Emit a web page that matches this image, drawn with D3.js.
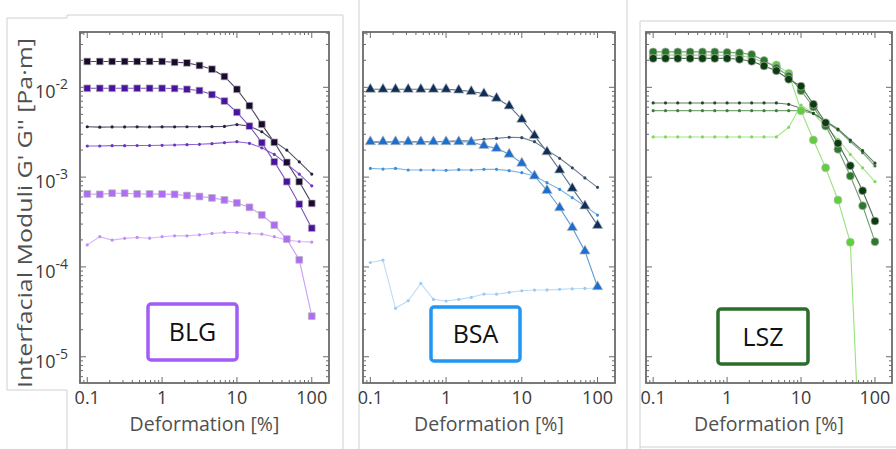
<!DOCTYPE html>
<html>
<head>
<meta charset="utf-8">
<title>Interfacial moduli vs deformation</title>
<style>
  body { margin: 0; background: #ffffff; }
  svg { display: block; font-family: 'Open Sans', sans-serif; }
  .frame { fill: none; stroke: #6b6b6b; stroke-width: 1.8; }
  .tick { stroke: #6b6b6b; stroke-width: 1; }
  .ticklabel { fill: #3a3a3a; font-size: 18px; }
  .axislabel { fill: #505050; font-size: 19.5px; }
  .crop { stroke: #d0d0d0; stroke-width: 1; fill: none; }
</style>
</head>
<body>
<svg id="chart" width="896" height="449"></svg>
<script src="https://cdnjs.cloudflare.com/ajax/libs/d3/7.8.5/d3.min.js"></script>
<script>

// deformation steps [%], shared by every curve
var strain = [0.1, 0.147, 0.215, 0.316, 0.464, 0.681, 1, 1.47, 2.15, 3.16, 4.64, 6.81, 10, 14.7, 21.5, 31.6, 46.4, 68.1, 100]

var xTickLabels = ["0.1", "1", "10", "100"]
var xTickValues = [0.1, 1, 10, 100]
var yTickValues = [1e-2, 1e-3, 1e-4, 1e-5]
var yTickExponents = ["-2", "-3", "-4", "-5"]
var panelNames = ["BLG", "BSA", "LSZ"]

// BLG  (squares = G', small dots = G'')
var blgDarkG1  = [0.0194, 0.0194, 0.0194, 0.0194, 0.0194, 0.0194, 0.0194, 0.019, 0.0187, 0.0175, 0.0159, 0.0132, 0.0095, 0.00624, 0.00387, 0.00244, 0.00146, 0.00089, 0.00051]
var blgDarkG2  = [0.00364, 0.0036, 0.00362, 0.00362, 0.00363, 0.00362, 0.00363, 0.00363, 0.00364, 0.00364, 0.00365, 0.00367, 0.00385, 0.0037, 0.0032, 0.0025, 0.002, 0.00148, 0.00108]
var blgMidG1   = [0.00975, 0.00975, 0.00975, 0.00975, 0.00975, 0.00975, 0.00975, 0.0097, 0.0095, 0.0092, 0.0083, 0.00703, 0.00527, 0.0037, 0.00242, 0.00148, 0.00089, 0.0005, 0.00027]
var blgMidG2   = [0.00222, 0.00222, 0.00224, 0.00224, 0.00225, 0.00225, 0.00226, 0.00228, 0.0023, 0.00232, 0.00236, 0.00242, 0.00248, 0.00238, 0.00212, 0.00179, 0.0014, 0.00108, 0.0008]
var blgLightG1 = [0.00065, 0.000643, 0.000662, 0.000662, 0.00065, 0.00065, 0.000647, 0.000643, 0.000624, 0.000608, 0.000587, 0.000557, 0.000516, 0.000461, 0.000379, 0.000292, 0.000204, 0.00012, 0.0000283]
var blgLightG2 = [0.000176, 0.000217, 0.000199, 0.000208, 0.000213, 0.000209, 0.000217, 0.000222, 0.000222, 0.000228, 0.000236, 0.000242, 0.000242, 0.000236, 0.000232, 0.000217, 0.000199, 0.000192, 0.000189]

// BSA  (triangles = G', small dots = G'')
var bsaDarkG1  = [0.0095, 0.0095, 0.0095, 0.0095, 0.0095, 0.0095, 0.0095, 0.0093, 0.009, 0.0085, 0.00755, 0.0062, 0.0044, 0.0029, 0.00191, 0.0012, 0.00075, 0.000477, 0.00029]
var bsaDarkG2  = [0.00245, 0.00245, 0.00246, 0.00246, 0.00247, 0.00248, 0.0025, 0.00253, 0.00256, 0.00264, 0.0027, 0.00278, 0.00275, 0.00248, 0.002, 0.00162, 0.00127, 0.00098, 0.00077]
var bsaMidG1   = [0.00248, 0.00248, 0.00248, 0.00248, 0.00248, 0.00248, 0.00248, 0.00248, 0.00246, 0.00225, 0.00209, 0.0018, 0.00143, 0.00103, 0.00071, 0.000456, 0.000274, 0.00015, 0.0000602]
var bsaMidG2   = [0.00125, 0.00123, 0.00125, 0.0012, 0.0012, 0.0012, 0.00119, 0.00121, 0.0012, 0.00122, 0.00122, 0.00118, 0.00112, 0.00103, 0.000867, 0.000731, 0.00059, 0.000477, 0.000378]
var bsaLightG2 = [0.000112, 0.000119, 0.0000346, 0.000042, 0.0000656, 0.0000435, 0.0000417, 0.0000435, 0.0000458, 0.0000499, 0.0000497, 0.0000521, 0.0000543, 0.0000553, 0.0000555, 0.0000563, 0.0000571, 0.0000576, 0.0000582]

// LSZ  (circles = G', small dots = G'')
var lszDarkG1  = [0.021, 0.021, 0.021, 0.021, 0.021, 0.021, 0.021, 0.0205, 0.0195, 0.0173, 0.0153, 0.0123, 0.0103, 0.00647, 0.00403, 0.00238, 0.00134, 0.000706, 0.000324]
var lszMidG1   = [0.0248, 0.0248, 0.0248, 0.0248, 0.0248, 0.0248, 0.0245, 0.0242, 0.0232, 0.0199, 0.0165, 0.0134, 0.00917, 0.00604, 0.0037, 0.00204, 0.00103, 0.00048, 0.000191]
var lszLightG1 = [0.0228, 0.0228, 0.0228, 0.0228, 0.0228, 0.0228, 0.0226, 0.0224, 0.0215, 0.0188, 0.0177, 0.0143, 0.00549, 0.00259, 0.00127, 0.000556, 0.000188, 1.5e-7, null]
var lszDarkG2  = [0.0067, 0.0067, 0.0067, 0.0067, 0.0067, 0.0067, 0.0067, 0.0067, 0.0067, 0.0067, 0.0067, 0.00647, 0.00584, 0.00513, 0.00421, 0.00343, 0.00259, 0.00197, 0.00143]
var lszMidG2   = [0.0055, 0.0055, 0.0055, 0.0055, 0.0055, 0.0055, 0.0055, 0.0055, 0.0055, 0.0055, 0.0055, 0.0055, 0.00548, 0.0051, 0.00414, 0.00335, 0.00248, 0.00187, 0.00133]
var lszLightG2 = [0.0028, 0.0028, 0.0028, 0.0028, 0.0028, 0.0028, 0.0028, 0.0028, 0.0028, 0.0028, 0.0028, 0.00359, 0.00635, 0.00513, 0.00364, 0.00264, 0.00179, 0.00127, 0.00089]

// layout of the three panels
var panels = [
  { left: 80, right: 329, boxColor: "#a35cf5", box: [148, 304, 89, 56], marker: d3.symbolSquare, size: 46,
    series: [
      { values: blgLightG2, color: "#c08cf5", line: "#d7b6fa", dot: true },
      { values: blgMidG2, color: "#6a35c0", line: "#8d63d2", dot: true },
      { values: blgDarkG2, color: "#2a1f3d", line: "#55506a", dot: true },
      { values: blgLightG1, color: "#b06cf5", line: "#c9a0f7" },
      { values: blgMidG1, color: "#4a12a0", line: "#7a52bd" },
      { values: blgDarkG1, color: "#1a0a30", line: "#4d4560" }
    ] },
  { left: 363, right: 615, boxColor: "#2196f3", box: [431, 307, 89, 54], marker: d3.symbolTriangle, size: 46,
    series: [
      { values: bsaLightG2, color: "#9ccaf5", line: "#bcdcf8", dot: true },
      { values: bsaMidG2, color: "#3d8fdb", line: "#7fb3e6", dot: true },
      { values: bsaDarkG2, color: "#334a66", line: "#6d7f94", dot: true },
      { values: bsaMidG1, color: "#1a6fd0", line: "#5f9ad9" },
      { values: bsaDarkG1, color: "#0e2f5a", line: "#5a6e86" }
    ] },
  { left: 646, right: 892, boxColor: "#2a6e2a", box: [718, 309, 90, 55], marker: d3.symbolCircle, size: 50,
    series: [
      { values: lszLightG2, color: "#7fd85c", line: "#a6e68c", dot: true },
      { values: lszMidG2, color: "#3f803f", line: "#7aa67a", dot: true },
      { values: lszDarkG2, color: "#244d24", line: "#5f7f5f", dot: true },
      { values: lszLightG1, color: "#5fd03a", line: "#9ae27f" },
      { values: lszMidG1, color: "#2b7a2b", line: "#6f9f6f" },
      { values: lszDarkG1, color: "#0c3d10", line: "#4f6f52" }
    ] }
]

var plotTop = 32, plotBottom = 383

var svg = d3.select("#chart")

// faint crop outlines from the source figure
var crops = [
  [7, 18, 67, 18], [67, 18, 67, 15], [67, 15, 343, 15], [343, 15, 343, 449],
  [7, 18, 7, 390], [7, 390, 67, 390], [67, 390, 67, 449],
  [359, 0, 359, 449], [627, 0, 627, 449],
  [640, 21, 640, 449], [640, 21, 896, 21], [640, 447, 896, 447]
]
svg.append("g").selectAll("line")
  .data(crops).enter().append("line")
  .attr("class", "crop")
  .attr("x1", function (d) { return d[0] }).attr("y1", function (d) { return d[1] })
  .attr("x2", function (d) { return d[2] }).attr("y2", function (d) { return d[3] })

var y = d3.scaleLog().domain([5.1e-6, 0.0413]).range([plotBottom, plotTop])

function isMajor(v) {
  var l = Math.log10(v)
  return Math.abs(l - Math.round(l)) < 1e-6
}

panels.forEach(function (p, i) {
  var x = d3.scaleLog().domain([0.08, 170]).range([p.left, p.right])
  var g = svg.append("g")

  // clip to the plotting box
  var clipId = "clip" + i
  g.append("clipPath").attr("id", clipId)
    .append("rect")
    .attr("x", p.left).attr("y", plotTop)
    .attr("width", p.right - p.left).attr("height", plotBottom - plotTop)

  // ticks on all four sides, pointing inward
  var ticks = g.append("g")
  x.ticks().forEach(function (t) {
    var len = isMajor(t) ? 6 : 3
    ticks.append("line").attr("class", "tick")
      .attr("x1", x(t)).attr("x2", x(t)).attr("y1", plotBottom).attr("y2", plotBottom - len)
    ticks.append("line").attr("class", "tick")
      .attr("x1", x(t)).attr("x2", x(t)).attr("y1", plotTop).attr("y2", plotTop + len)
  })
  y.ticks().forEach(function (t) {
    var len = isMajor(t) ? 6 : 3
    ticks.append("line").attr("class", "tick")
      .attr("y1", y(t)).attr("y2", y(t)).attr("x1", p.left).attr("x2", p.left + len)
    ticks.append("line").attr("class", "tick")
      .attr("y1", y(t)).attr("y2", y(t)).attr("x1", p.right).attr("x2", p.right - len)
  })

  // curves
  var plot = g.append("g").attr("clip-path", "url(#" + clipId + ")")
  var line = d3.line()
    .defined(function (d) { return d[1] != null })
    .x(function (d) { return x(d[0]) })
    .y(function (d) { return y(d[1]) })

  p.series.forEach(function (s) {
    var pts = strain.map(function (v, k) { return [v, s.values[k]] })
    plot.append("path")
      .attr("d", line(pts))
      .attr("fill", "none")
      .attr("stroke", s.line)
      .attr("stroke-width", 1.1)

    var sym = s.dot ? d3.symbol().type(d3.symbolCircle).size(8)
                    : d3.symbol().type(p.marker).size(p.size)
    plot.append("g").selectAll("path")
      .data(pts.filter(function (d) { return d[1] != null }))
      .enter().append("path")
      .attr("d", sym)
      .attr("transform", function (d) { return "translate(" + x(d[0]) + "," + y(d[1]) + ")" })
      .attr("fill", s.color)
      .attr("stroke", s.dot ? "none" : "#b8b8b8")
      .attr("stroke-width", 0.7)
  })

  // frame
  g.append("rect").attr("class", "frame")
    .attr("x", p.left).attr("y", plotTop)
    .attr("width", p.right - p.left).attr("height", plotBottom - plotTop)

  // x tick labels
  g.selectAll(".ticklabel")
    .data(xTickValues).enter().append("text")
    .attr("class", "ticklabel")
    .attr("x", function (d) { return x(d) })
    .attr("y", 404)
    .attr("text-anchor", "middle")
    .text(function (d, k) { return xTickLabels[k] })

  g.append("text").attr("class", "axislabel")
    .attr("x", (p.left + p.right) / 2)
    .attr("y", 431)
    .attr("text-anchor", "middle")
    .text("Deformation [%]")

  // sample label box
  g.append("rect")
    .attr("x", p.box[0]).attr("y", p.box[1])
    .attr("width", p.box[2]).attr("height", p.box[3])
    .attr("rx", 3)
    .attr("fill", "#ffffff")
    .attr("stroke", p.boxColor)
    .attr("stroke-width", 3.5)
  g.append("text")
    .attr("x", p.box[0] + p.box[2] / 2)
    .attr("y", p.box[1] + p.box[3] / 2 + 9)
    .attr("text-anchor", "middle")
    .attr("font-size", 25)
    .attr("fill", "#111111")
    .text(panelNames[i])
})

// y tick labels, first panel only
var ylab = svg.append("g")
yTickValues.forEach(function (t, k) {
  var txt = ylab.append("text").attr("class", "ticklabel")
    .attr("x", 35).attr("y", y(t) + 11)
    .attr("font-size", 21)
  txt.append("tspan").text("10")
  txt.append("tspan").attr("dy", -9).attr("font-size", 14).text(yTickExponents[k])
})

svg.append("text")
  .attr("class", "axislabel")
  .attr("transform", "translate(32,213) rotate(-90)")
  .attr("text-anchor", "middle")
  .attr("font-size", 26)
  .attr("textLength", 350)
  .attr("lengthAdjust", "spacingAndGlyphs")
  .text("Interfacial Moduli G' G'' [Pa·m]")

</script>
</body>
</html>
